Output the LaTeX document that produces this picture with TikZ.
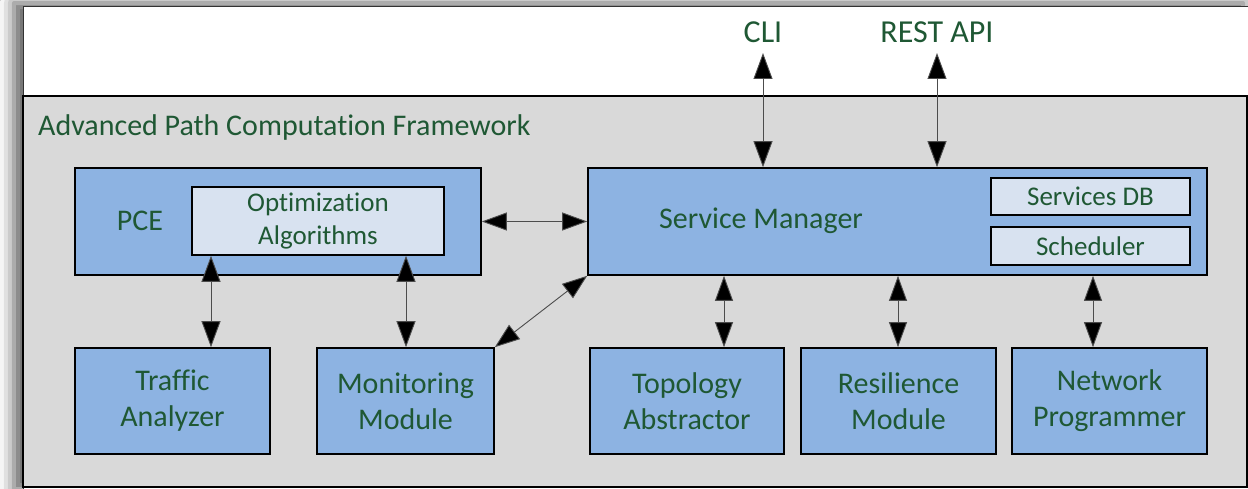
\documentclass[tikz,border=0pt]{standalone}
\usepackage{fontspec}
\setmainfont[Ligatures=NoCommon]{Carlito}
\usetikzlibrary{arrows.meta,shadows.blur}
\definecolor{txtgreen}{RGB}{31,88,52}
\definecolor{boxblue}{RGB}{141,179,226}
\definecolor{innerblue}{RGB}{216,226,240}
\definecolor{bggray}{RGB}{217,217,217}
\tikzset{
  modbox/.style={draw=black, line width=1.6pt, fill=boxblue, inner sep=0pt, text=txtgreen, align=center, font=\fontsize{30}{36}\selectfont},
  subbox/.style={draw=black, line width=1.6pt, fill=innerblue, inner sep=0pt, text=txtgreen, align=center, font=\fontsize{27}{33}\selectfont},
  lbl/.style={text=txtgreen, inner sep=0pt},
  biarrow/.style={draw=black!70, line width=0.9pt, {Triangle[length=26pt,width=19pt,fill=black]}-{Triangle[length=26pt,width=19pt,fill=black]}},
  biarrowb/.style={draw=black!70, line width=0.9pt, {Triangle[length=25pt,width=18pt,fill=black]}-{Triangle[length=25pt,width=18pt,fill=black]}}
}
\begin{document}
\begin{tikzpicture}[x=1pt,y=-1pt]
\useasboundingbox (0,0) rectangle (1248,489);
\fill[white] (0,0) rectangle (1248,489);
% outer frame
\path[fill=white, draw=black!80, line width=1pt, blur shadow={shadow xshift=-9pt, shadow yshift=4pt, shadow blur radius=14pt, shadow opacity=65}] (23,7) rectangle (1252,493);
\path[fill=bggray, draw=black, line width=1.6pt] (23,96) rectangle (1247,487);
\node[lbl, anchor=base west, font=\fontsize{30}{36}\selectfont] (fw) at (38,136) {Advanced Path Computation Framework};
% top labels
\node[lbl, anchor=base, font=\fontsize{32}{38}\selectfont] (cli) at (763,43) {CLI};
\node[lbl, anchor=base, font=\fontsize{32}{38}\selectfont] (rest) at (937,43) {REST API};
\coordinate (clitip) at (763,53);
\coordinate (resttip) at (937,53);
% upper boxes
\node[modbox, minimum width=406pt, minimum height=107pt] (pce) at (278,221.5) {};
\node[lbl, font=\fontsize{30}{36}\selectfont] (pcet) at (140,221) {PCE};
\node[subbox, minimum width=252pt, minimum height=68pt] (opt) at (318,221) {Optimization\\Algorithms};
\node[modbox, minimum width=619pt, minimum height=107pt] (sm) at (897.5,221.5) {};
\node[lbl, font=\fontsize{30}{36}\selectfont] (smt) at (761,221) {Service Manager};
\node[subbox, minimum width=199pt, minimum height=37pt] (db) at (1090.5,196.5) {Services DB};
\node[subbox, minimum width=199pt, minimum height=38pt] (sch) at (1090.5,246) {Scheduler};
% lower boxes
\node[modbox, minimum width=195pt, minimum height=106pt] (ta) at (172.5,401) {Traffic\\Analyzer};
\node[modbox, minimum width=177pt, minimum height=106pt] (mm) at (405.5,401) {Monitoring\\Module};
\node[modbox, minimum width=194pt, minimum height=106pt] (topo) at (687,401) {Topology\\Abstractor};
\node[modbox, minimum width=195pt, minimum height=106pt] (res) at (898.5,401) {Resilience\\Module};
\node[modbox, minimum width=195pt, minimum height=106pt] (np) at (1109.5,401) {Network\\Programmer};
% connectors
\draw[biarrow] (clitip) -- (sm.north -| clitip);
\draw[biarrow] (resttip) -- (sm.north -| resttip);
\draw[biarrowb] (pce.east) -- (sm.west);
\draw[biarrow] (opt.south -| 211,0) -- (ta.north -| 211,0);
\draw[biarrow] (opt.south -| 406,0) -- (mm.north -| 406,0);
\draw[biarrowb] (mm.north east) -- (sm.south west);
\draw[biarrowb] (sm.south -| 724,0) -- (topo.north -| 724,0);
\draw[biarrowb] (sm.south -| 898,0) -- (res.north -| 898,0);
\draw[biarrowb] (sm.south -| 1093,0) -- (np.north -| 1093,0);
\end{tikzpicture}
\end{document}
